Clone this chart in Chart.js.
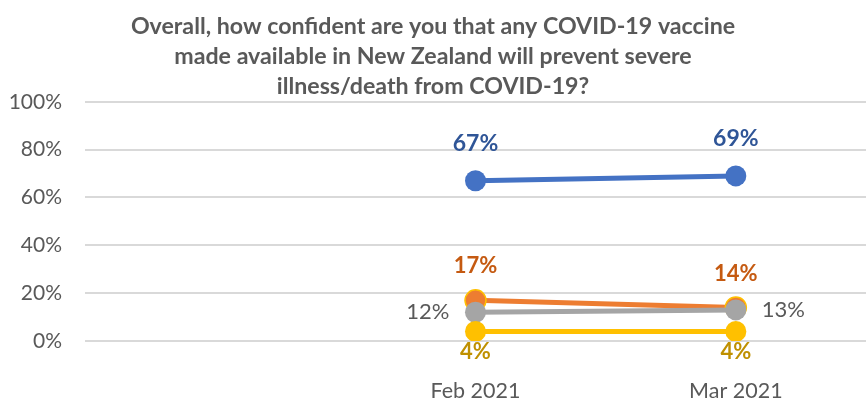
<!DOCTYPE html>
<html>
<head>
<meta charset="utf-8">
<script src="https://cdn.jsdelivr.net/npm/chart.js@4/dist/chart.umd.min.js"></script>
<style>
  body { margin: 0; background: #fff; }
  #wrap { width: 866px; height: 406px; }
</style>
</head>
<body>
<div id="wrap"><canvas id="chart" width="866" height="406"></canvas></div>
<script>
// first category is empty, Excel left a blank slot there
const categories = ['', 'Feb 2021', 'Mar 2021'];
const confident = [null, 67, 69];
const notConfident = [null, 17, 14];
const unsure = [null, 12, 13];
const dontKnow = [null, 4, 4];
const yTicks = [0, 20, 40, 60, 80, 100];

const FONT = 'Lato, "Open Sans", sans-serif';

// simple value labels, drawn next to each point
const pointLabels = {
    id: 'pointLabels',
    afterDatasetsDraw(chart) {
        const ctx = chart.ctx;
        chart.data.datasets.forEach((ds, i) => {
            const meta = chart.getDatasetMeta(i);
            const lab = ds.valueLabel;
            meta.data.forEach((pt, j) => {
                const v = ds.data[j];
                if (v == null) return;
                ctx.save();
                ctx.font = (lab.bold ? 'bold ' : '') + lab.size + 'px ' + FONT;
                ctx.fillStyle = lab.color;
                ctx.textBaseline = 'middle';
                let x = pt.x, y = pt.y;
                if (lab.pos === 'top') { ctx.textAlign = 'center'; y -= lab.gap; }
                else if (lab.pos === 'bottom') { ctx.textAlign = 'center'; y += lab.gap; }
                else if (j === 1) { ctx.textAlign = 'right'; x -= lab.gap; }
                else { ctx.textAlign = 'left'; x += lab.gap; }
                ctx.fillText(v + '%', x, y);
                ctx.restore();
            });
        });
    }
};

function series(label, data, color, order, valueLabel, border) {
    return {
        label: label,
        data: data,
        borderColor: color,
        backgroundColor: color,
        borderWidth: 5,
        pointRadius: 10.5,
        pointHoverRadius: 10.5,
        pointBackgroundColor: color,
        pointBorderColor: border || color,
        pointBorderWidth: border ? 1.5 : 0,
        order: order,
        valueLabel: valueLabel
    };
}

new Chart(document.getElementById('chart'), {
    type: 'line',
    data: {
        labels: categories,
        datasets: [
            series('Confident', confident, '#4472C4', 3, { pos: 'top', gap: 37, color: '#2F5597', bold: true, size: 23 }),
            series('Not confident', notConfident, '#ED7D31', 2, { pos: 'top', gap: 34, color: '#C55A11', bold: true, size: 22 }, '#FFC000'),
            series('Unsure', unsure, '#A5A5A5', 1, { pos: 'side', gap: 26, color: '#595959', bold: false, size: 22 }),
            series("Don't know", dontKnow, '#FFC000', 0, { pos: 'bottom', gap: 20, color: '#BF9000', bold: true, size: 22 })
        ]
    },
    options: {
        responsive: false,
        animation: false,
        layout: { padding: 0, autoPadding: false },
        plugins: {
            legend: { display: false },
            tooltip: { enabled: false },
            title: {
                display: true,
                text: [
                    'Overall, how confident are you that any COVID-19 vaccine',
                    'made available in New Zealand will prevent severe',
                    'illness/death from COVID-19?'
                ],
                color: '#595959',
                font: { family: FONT, size: 23.2, weight: 'bold', lineHeight: 1.29 },
                padding: { top: 12, bottom: 0 }
            }
        },
        scales: {
            x: {
                offset: true,
                grid: { display: false },
                border: { display: false },
                ticks: { color: '#595959', font: { family: FONT, size: 21.5 }, padding: 29, maxRotation: 0 },
                afterFit(axis) {
                    axis.height = 65;
                    axis.paddingLeft = 0;
                    axis.paddingRight = 0;
                }
            },
            y: {
                min: 0,
                max: 100,
                afterBuildTicks(axis) { axis.ticks = yTicks.map(v => ({ value: v })); },
                afterFit(axis) { axis.width = 85; },
                grid: { color: '#D9D9D9', lineWidth: 2, drawTicks: false },
                border: { display: false },
                ticks: {
                    color: '#595959',
                    font: { family: FONT, size: 21 },
                    padding: 23,
                    callback: v => v + '%'
                }
            }
        }
    },
    plugins: [pointLabels]
});
</script>
</body>
</html>
